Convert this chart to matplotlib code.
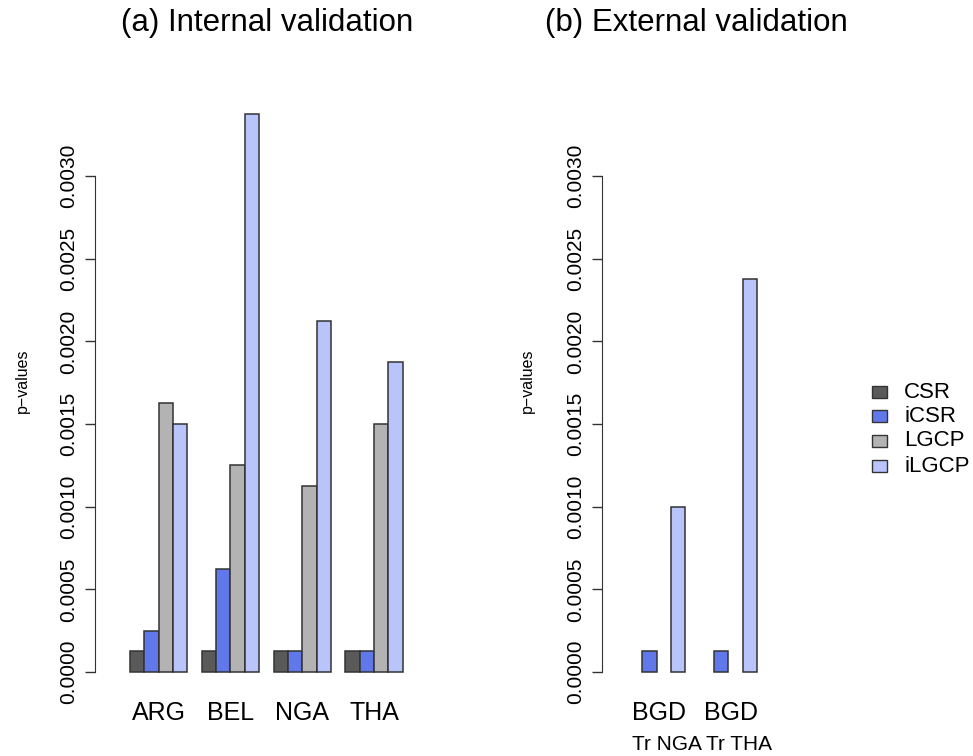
import numpy as np
import matplotlib
matplotlib.use('Agg')
import matplotlib.pyplot as plt
from matplotlib.patches import Rectangle

plt.rcParams['font.family'] = ['Liberation Sans', 'DejaVu Sans']

# data (p-values)
models = ['CSR', 'iCSR', 'LGCP', 'iLGCP']
colours = ['#5a5a5a', '#6078e9', '#b3b3b3', '#b9c4fa']

internal_countries = ['ARG', 'BEL', 'NGA', 'THA']
internal_csr = [0.000125, 0.000125, 0.000125, 0.000125]
internal_icsr = [0.00025, 0.000625, 0.000125, 0.000125]
internal_lgcp = [0.001625, 0.00125, 0.001125, 0.0015]
internal_ilgcp = [0.0015, 0.003375, 0.002125, 0.001875]

external_countries = ['BGD', 'BGD']
external_train = ['Tr NGA', 'Tr THA']
external_csr = [0.0, 0.0]
external_icsr = [0.000125, 0.000125]
external_lgcp = [0.0, 0.0]
external_ilgcp = [0.001, 0.002375]

yticks = [0.0, 0.0005, 0.001, 0.0015, 0.002, 0.0025, 0.003]

W, H = 973, 756
fig = plt.figure(figsize=(W / 100, H / 100), dpi=100)

unit = 14.36          # pixels per bar width
y0_px = 672           # pixel row of p = 0
ytop = 0.0035
ypx_per = 165300.0    # pixels per unit of p


def make_axes(axis_px, x0_px, xmax):
    xmin = (axis_px - x0_px) / unit
    left = axis_px / W
    width = (xmax - xmin) * unit / W
    bottom = (H - y0_px) / H
    height = ytop * ypx_per / H
    ax = fig.add_axes([left, bottom, width, height])
    ax.set_xlim(xmin, xmax)
    ax.set_ylim(0, ytop)
    for s in ['top', 'right', 'bottom']:
        ax.spines[s].set_visible(False)
    ax.spines['left'].set_bounds(0, 0.003)
    ax.spines['left'].set_color('#333333')
    ax.set_yticks(yticks)
    ax.set_yticklabels(['%.4f' % v for v in yticks], rotation=90, va='center',
                       fontsize=15)
    ax.tick_params(axis='y', length=7, width=1, color='#333333', pad=5)
    ax.set_xticks([])
    return ax


def draw_groups(ax, series):
    n_groups = len(series[0])
    for g in range(n_groups):
        for k, vals in enumerate(series):
            v = vals[g]
            if v <= 0:
                continue
            ax.bar(1 + 5 * g + k, v, width=1, align='edge', color=colours[k],
                   edgecolor='#333333', linewidth=1.1, clip_on=False)


label_y = (y0_px - 713) / (ytop * ypx_per)
sub_y = (y0_px - 744) / (ytop * ypx_per)

# (a) internal validation
ax1 = make_axes(95, 115.6, 22)
draw_groups(ax1, [internal_csr, internal_icsr, internal_lgcp, internal_ilgcp])
for g, name in enumerate(internal_countries):
    ax1.text(3 + 5 * g, label_y, name, transform=ax1.get_xaxis_transform(),
             ha='center', va='center', fontsize=18)

# (b) external validation
ax2 = make_axes(602, 613.5, 11)
draw_groups(ax2, [external_csr, external_icsr, external_lgcp, external_ilgcp])
for g, name in enumerate(external_countries):
    ax2.text(3.2 + 5 * g, label_y, name, transform=ax2.get_xaxis_transform(),
             ha='center', va='center', fontsize=18)
    ax2.text(3.75 + 5 * g, sub_y, external_train[g],
             transform=ax2.get_xaxis_transform(),
             ha='center', va='center', fontsize=15)

# titles and y labels
fig.text(267 / W, 1 - 23 / H, '(a) Internal validation', ha='center',
         va='center', fontsize=22.5)
fig.text(696 / W, 1 - 23 / H, '(b) External validation', ha='center',
         va='center', fontsize=22.5)
fig.text(22 / W, 1 - 381 / H, 'p\u2212values', rotation=90, ha='center',
         va='center', fontsize=11.5)
fig.text(527 / W, 1 - 381 / H, 'p\u2212values', rotation=90, ha='center',
         va='center', fontsize=11.5)

# legend
rows = [392, 416, 441, 466]
for name, col, yr in zip(models, colours, rows):
    fig.add_artist(Rectangle((872 / W, 1 - (yr + 6) / H), 15 / W, 12 / H,
                             transform=fig.transFigure, facecolor=col,
                             edgecolor='#333333', linewidth=1))
    fig.text(904 / W, 1 - yr / H, name, ha='left', va='center', fontsize=16)

fig.savefig('out.png', dpi=100)
